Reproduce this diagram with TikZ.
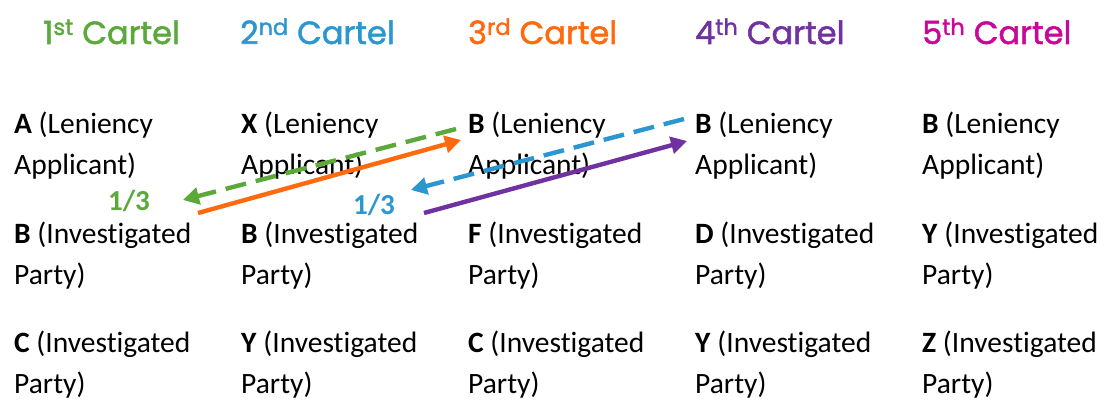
\documentclass[tikz,border=0pt]{standalone}
\usepackage{fontspec}
\setmainfont[Ligatures=NoCommon]{Carlito}
\newfontfamily\headfont[FakeBold=1.6]{Poppins}
\usetikzlibrary{arrows.meta}

\definecolor{cartelgreen}{HTML}{5BA83B}
\definecolor{cartelblue}{HTML}{2B96D0}
\definecolor{cartelorange}{HTML}{FF6A0E}
\definecolor{cartelpurple}{HTML}{7032A0}
\definecolor{cartelmagenta}{HTML}{C8089A}

\newcommand{\lenient}[1]{\textbf{#1} (Leniency\\Applicant)}
\newcommand{\investigated}[1]{\textbf{#1} (Investigated\\Party)}

\begin{document}
\begin{tikzpicture}[x=1pt, y=-1pt,
    heading/.style={anchor=base west, inner sep=0pt, font=\headfont\fontsize{32}{36}\selectfont},
    cell/.style={anchor=base west, inner sep=0pt, align=left, font=\fontsize{29.5}{41}\selectfont},
    share/.style={inner sep=0pt, font=\bfseries\fontsize{29}{32}\selectfont},
    link/.style={line width=4.4pt, -{Triangle[length=16pt, width=17pt]}},
    back/.style={link, dash pattern=on 21pt off 10pt}]
    \useasboundingbox (0,0) rectangle (1106,401);

    % Headings
    \foreach \n/\x/\ord/\col in {1/43/st/cartelgreen, 2/240/nd/cartelblue, 3/468/rd/cartelorange,
                                4/695/th/cartelpurple, 5/922/th/cartelmagenta} {
        \node[heading, text=\col] (head\n) at (\x,44) {\n\textsuperscript{\ord} Cartel};
    }

    % Parties of each cartel (anchored on the last line)
    \foreach \cell/\x/\y/\who/\role in {
        c1r1/14/175/A/\lenient, c1r2/14/284/B/\investigated, c1r3/14/393/C/\investigated,
        c2r1/241/175/X/\lenient, c2r2/241/284/B/\investigated, c2r3/241/393/Y/\investigated,
        c3r1/468/175/B/\lenient, c3r2/468/284/F/\investigated, c3r3/468/393/C/\investigated,
        c4r1/695/175/B/\lenient, c4r2/695/284/D/\investigated, c4r3/695/393/Y/\investigated,
        c5r1/922/175/B/\lenient, c5r2/922/284/Y/\investigated, c5r3/922/393/Z/\investigated} {
        \node[cell] (\cell) at (\x,\y) {\role{\who}};
    }

    % Shares
    \node[share, text=cartelgreen] (third1) at (129,201) {1/3};
    \node[share, text=cartelblue] (third2) at (374,205) {1/3};

    % Arrow ends
    \coordinate (greenfrom) at (456,129);
    \coordinate (greento) at (183,200);
    \coordinate (orangefrom) at (198,213);
    \coordinate (orangeto) at (461,140);
    \coordinate (bluefrom) at (684,119);
    \coordinate (blueto) at (411,190);
    \coordinate (purplefrom) at (424,213);
    \coordinate (purpleto) at (687,141);

    \draw[back, cartelgreen] (greenfrom) -- (greento);
    \draw[link, cartelorange] (orangefrom) -- (orangeto);
    \draw[back, cartelblue] (bluefrom) -- (blueto);
    \draw[link, cartelpurple] (purplefrom) -- (purpleto);
\end{tikzpicture}
\end{document}
